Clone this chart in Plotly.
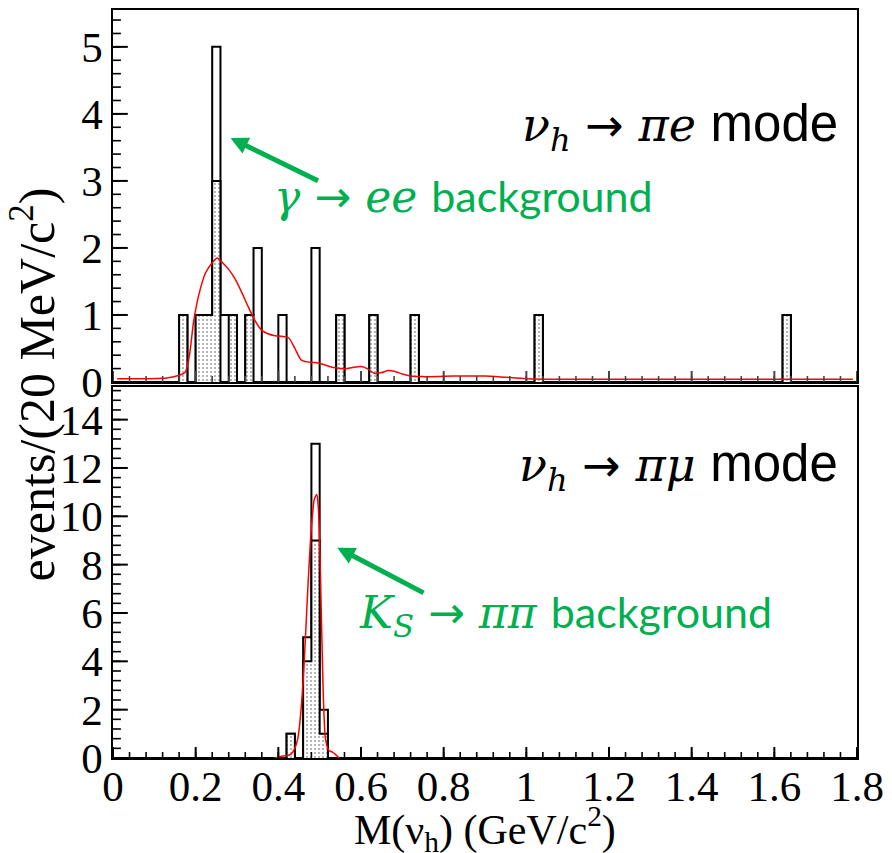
import numpy as np
import plotly.graph_objects as go

# ---------------- data ----------------
bin_width = 0.02
n_bins = 90

# nu_h -> pi e mode (top panel)
pe_bins = [0.16, 0.20, 0.22, 0.24, 0.26, 0.28, 0.32, 0.34, 0.40, 0.48, 0.54, 0.62, 0.72, 1.02, 1.62]
pe_total = [1, 1, 1, 5, 1, 1, 1, 2, 1, 2, 1, 1, 1, 1, 1]
pe_dotted = [1, 1, 1, 3, 0, 1, 1, 0, 0, 0, 1, 1, 1, 1, 1]

pe_curve_x = [0.01, 0.05, 0.09, 0.13, 0.16, 0.175, 0.185, 0.195, 0.208, 0.224, 0.240, 0.252, 0.265,
              0.28, 0.296, 0.312, 0.328, 0.345, 0.36, 0.375, 0.392, 0.41, 0.425, 0.44, 0.455, 0.47,
              0.49, 0.51, 0.53, 0.55, 0.567, 0.583, 0.60, 0.615, 0.632, 0.65, 0.665, 0.68, 0.70,
              0.72, 0.75, 0.80, 0.85, 0.90, 0.95, 1.00, 1.10, 1.30, 1.50, 1.70, 1.79]
pe_curve_y = [0.05, 0.05, 0.05, 0.06, 0.10, 0.15, 0.40, 0.90, 1.31, 1.63, 1.78, 1.85, 1.78,
              1.68, 1.53, 1.33, 1.11, 0.90, 0.77, 0.72, 0.69, 0.68, 0.66, 0.50, 0.33, 0.30,
              0.29, 0.26, 0.22, 0.20, 0.20, 0.22, 0.23, 0.20, 0.13, 0.14, 0.17, 0.16, 0.12,
              0.09, 0.08, 0.085, 0.09, 0.09, 0.07, 0.05, 0.04, 0.04, 0.04, 0.04, 0.04]

# nu_h -> pi mu mode (bottom panel)
pm_bins = [0.42, 0.46, 0.48, 0.50]
pm_total = [1, 5, 13, 2]
pm_dotted = [1, 4, 9, 1]

pm_curve_x = [0.39, 0.40, 0.41, 0.42, 0.43, 0.44, 0.447, 0.455, 0.463, 0.471, 0.479, 0.487,
              0.493, 0.497, 0.501, 0.505, 0.509, 0.514, 0.522, 0.53, 0.538, 0.547]
pm_curve_y = [0.0, 0.03, 0.08, 0.10, 0.15, 0.40, 0.80, 2.0, 4.1, 6.9, 9.3, 10.7,
              10.9, 10.3, 8.2, 5.2, 2.45, 0.8, 0.32, 0.25, 0.15, 0.0]

x_range = [0, 1.8]
x_ticks = [0, 0.2, 0.4, 0.6, 0.8, 1.0, 1.2, 1.4, 1.6, 1.8]
x_tick_text = ["0", "0.2", "0.4", "0.6", "0.8", "1", "1.2", "1.4", "1.6", "1.8"]
x_minor_step = 0.04
top_y_range = [0, 5.55]
top_y_major, top_y_minor = 1, 0.2
bottom_y_range = [0, 15.35]
bottom_y_major, bottom_y_minor = 2, 0.4

# ---------------- layout constants (pixels) ----------------
W, H = 892, 853
ML, MR, MT, MB = 113, 26, 8, 95
TOP_DOM = [0.5027, 1]
BOT_DOM = [0, 0.496]
plot_w = W - ML - MR
plot_h = H - MT - MB

edges = np.round(np.arange(n_bins + 1) * bin_width, 4)


def step_xy(bins, counts):
    h = np.zeros(n_bins)
    for b, c in zip(bins, counts):
        h[int(round(b / bin_width))] = c
    return edges.tolist(), np.append(h, h[-1]).tolist()


GREEN = "#00B050"
SERIF = "Liberation Serif, DejaVu Serif, serif"
MATH = "DejaVu Serif, Liberation Serif, serif"

fig = go.Figure()


def add_panel(bins, total, dotted, cx, cy, xa, ya):
    x, y = step_xy(bins, total)
    fig.add_trace(go.Scatter(x=x, y=y, mode="lines", line=dict(shape="hv", color="black", width=2),
                             xaxis=xa, yaxis=ya, showlegend=False, hoverinfo="skip"))
    x, y = step_xy(bins, dotted)
    fig.add_trace(go.Scatter(x=x, y=y, mode="lines", line=dict(shape="hv", color="black", width=2),
                             fill="tozeroy", fillcolor="rgba(0,0,0,0)",
                             fillpattern=dict(shape=".", fgcolor="#333333", bgcolor="white",
                                              size=4, solidity=0.18),
                             xaxis=xa, yaxis=ya, showlegend=False, hoverinfo="skip"))
    fig.add_trace(go.Scatter(x=cx, y=cy, mode="lines", line=dict(shape="spline", smoothing=0.6,
                             color="red", width=1.5),
                             xaxis=xa, yaxis=ya, showlegend=False, hoverinfo="skip"))


def add_inward_ticks(yr, y_major, y_minor, dom, xa, ya, xcolor):
    """Inward-pointing axis ticks drawn through the axes' own scales."""
    px_per_y = plot_h * (dom[1] - dom[0]) / (yr[1] - yr[0])
    px_per_x = plot_w / (x_range[1] - x_range[0])
    x_minor = np.round(np.arange(x_range[0], x_range[1] + 1e-9, x_minor_step), 4).tolist()
    y_maj = np.round(np.arange(yr[0], yr[1] + 1e-9, y_major), 4).tolist()
    y_min = np.round(np.arange(yr[0], yr[1] + 1e-9, y_minor), 4).tolist()
    for vals, ln, col, w in [(x_ticks, 11, xcolor, 2), (x_minor, 6, xcolor, 1.6)]:
        xs, ys = [], []
        for v in vals:
            xs += [float(v), float(v), None]
            ys += [yr[0], yr[0] + ln / px_per_y, None]
        fig.add_trace(go.Scatter(x=xs, y=ys, mode="lines", line=dict(color=col, width=w),
                                 connectgaps=False, cliponaxis=False,
                                 xaxis=xa, yaxis=ya, showlegend=False, hoverinfo="skip"))
    for vals, ln, w in [(y_maj, 15, 2), (y_min, 8, 1.6)]:
        xs, ys = [], []
        for v in vals:
            xs += [x_range[0], x_range[0] + ln / px_per_x, None]
            ys += [float(v), float(v), None]
        fig.add_trace(go.Scatter(x=xs, y=ys, mode="lines", line=dict(color="black", width=w),
                                 connectgaps=False, cliponaxis=False,
                                 xaxis=xa, yaxis=ya, showlegend=False, hoverinfo="skip"))


add_panel(pe_bins, pe_total, pe_dotted, pe_curve_x, pe_curve_y, "x2", "y2")
add_panel(pm_bins, pm_total, pm_dotted, pm_curve_x, pm_curve_y, "x", "y")
add_inward_ticks(top_y_range, top_y_major, top_y_minor, TOP_DOM, "x2", "y2", "#444444")
add_inward_ticks(bottom_y_range, bottom_y_major, bottom_y_minor, BOT_DOM, "x", "y", "black")


def main_ax(**kw):
    base = dict(showline=True, linecolor="black", linewidth=1.5, mirror=True, ticks="",
                showgrid=False, zeroline=False)
    base.update(kw)
    return base


TICKFONT = dict(family=SERIF, size=43, color="black")

fig.update_layout(
    width=W, height=H,
    margin=dict(l=ML, r=MR, t=MT, b=MB),
    plot_bgcolor="white", paper_bgcolor="white",
    xaxis=main_ax(domain=[0, 1], anchor="y", range=x_range, tickvals=x_ticks, ticktext=x_tick_text,
                  ticklabelstandoff=-10, ticklabeloverflow="allow", tickfont=TICKFONT),
    yaxis=main_ax(domain=BOT_DOM, anchor="x", range=bottom_y_range, dtick=bottom_y_major, tick0=0,
                  tickfont=TICKFONT),
    xaxis2=main_ax(domain=[0, 1], anchor="y2", range=x_range, tickvals=x_ticks, showticklabels=False),
    yaxis2=main_ax(domain=TOP_DOM, anchor="x2", range=top_y_range, dtick=top_y_major, tick0=0,
                   tickfont=TICKFONT),
)

ARROW = "<span style='font-family:DejaVu Sans'>→</span>"
MODE = "<span style='font-family:Liberation Sans;font-size:51px'>mode</span>"
BKG = "<span style='font-family:Lato;font-size:43px'>background</span>"

annotations = [
    # axis titles
    dict(text="events/(20 MeV/c<sup>2</sup>)", xref="paper", yref="paper", x=-0.107, y=0.5,
         xanchor="center", yanchor="middle", textangle=-90, showarrow=False,
         font=dict(family=SERIF, size=50, color="black")),
    dict(text="M(ν<sub>h</sub>) (GeV/c<sup>2</sup>)", xref="paper", yref="paper", x=0.50, y=-0.095,
         xanchor="center", yanchor="middle", showarrow=False,
         font=dict(family=SERIF, size=42, color="black")),
    # top panel labels
    dict(text="<i>ν</i><sub><i>h</i></sub> " + ARROW + " <i>πe</i> " + MODE,
         xref="x2", yref="y2", x=1.76, y=3.80, xanchor="right", yanchor="middle", showarrow=False,
         font=dict(family=MATH, size=46, color="black")),
    dict(text="<i>γ</i> " + ARROW + " <i>ee</i> " + BKG,
         xref="x2", yref="y2", x=0.385, y=2.78, xanchor="left", yanchor="middle", showarrow=False,
         font=dict(family=MATH, size=44, color=GREEN)),
    dict(text="", xref="x2", yref="y2", x=0.2845, y=3.64, axref="x2", ayref="y2", ax=0.4996, ay=2.99,
         showarrow=True, arrowhead=2, arrowsize=0.7, arrowwidth=5, arrowcolor=GREEN),
    # bottom panel labels
    dict(text="<i>ν</i><sub><i>h</i></sub> " + ARROW + " <i>πμ</i> " + MODE,
         xref="x", yref="y", x=1.76, y=12.05, xanchor="right", yanchor="middle", showarrow=False,
         font=dict(family=MATH, size=46, color="black")),
    dict(text="<i>K</i><sub><i>S</i></sub> " + ARROW + " <i>ππ</i> " + BKG,
         xref="x", yref="y", x=0.590, y=5.93, xanchor="left", yanchor="middle", showarrow=False,
         font=dict(family=MATH, size=44, color=GREEN)),
    dict(text="", xref="x", yref="y", x=0.5427, y=8.70, axref="x", ayref="y", ax=0.755, ay=6.80,
         showarrow=True, arrowhead=2, arrowsize=0.7, arrowwidth=5, arrowcolor=GREEN),
]
fig.update_layout(annotations=annotations)

fig.write_html("out.html")
